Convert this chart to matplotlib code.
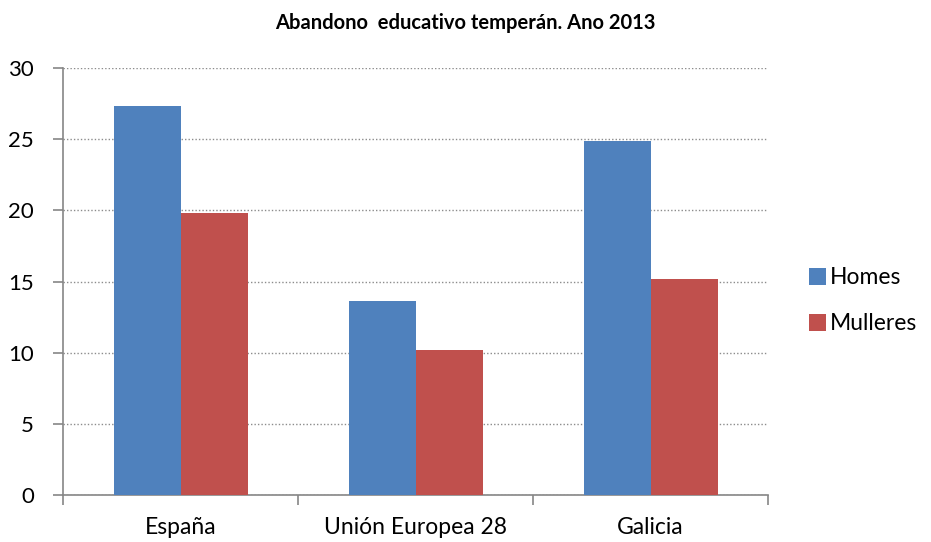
import numpy as np
from matplotlib import pyplot as plt

plt.rcParams['font.family'] = ['Lato', 'DejaVu Sans']

categorias = ['España', 'Unión Europea 28', 'Galicia']
homes = [27.3, 13.6, 24.9]
mulleres = [19.8, 10.2, 15.2]

fig = plt.figure(figsize=(9.31, 5.42), dpi=100)
ax = fig.add_axes([0.0677, 0.0867, 0.7573, 0.7878])

x = np.arange(len(categorias))
w = 0.285
ax.bar(x - w / 2, homes, w, color='#4F81BD', label='Homes', zorder=3)
ax.bar(x + w / 2, mulleres, w, color='#C0504D', label='Mulleres', zorder=3)

ax.set_xlim(-0.5, len(categorias) - 0.5)
ax.set_ylim(0, 30)
ax.set_yticks(range(0, 31, 5))
ax.yaxis.grid(True, color='#8c8c8c', linestyle=(0, (1, 1.5)), linewidth=1)
ax.set_axisbelow(True)

# divisiones entre categorias, etiquetas centradas
ax.set_xticks(np.arange(-0.5, len(categorias), 1.0))
ax.set_xticklabels([])
ax.set_xticks(x, minor=True)
ax.set_xticklabels(categorias, minor=True, fontsize=16.5)
ax.tick_params(axis='x', which='minor', length=0, pad=16)
ax.tick_params(axis='x', which='major', length=7, color='#868686', width=1.2)
ax.tick_params(axis='y', length=7, color='#868686', width=1.2, labelsize=16, pad=14)

for s in ['top', 'right']:
    ax.spines[s].set_visible(False)
for s in ['left', 'bottom']:
    ax.spines[s].set_color('#868686')
    ax.spines[s].set_linewidth(1.2)

fig.text(0.5, 0.958, 'Abandono  educativo temperán. Ano 2013', ha='center',
         va='center', fontsize=14.5, fontweight='bold')

fig.legend(loc='center left', bbox_to_anchor=(0.869, 0.445), frameon=False,
           fontsize=16.5, handlelength=0.75, handleheight=0.75, handletextpad=0.15,
           labelspacing=1.1, borderpad=0, borderaxespad=0)

plt.savefig('out.png')
